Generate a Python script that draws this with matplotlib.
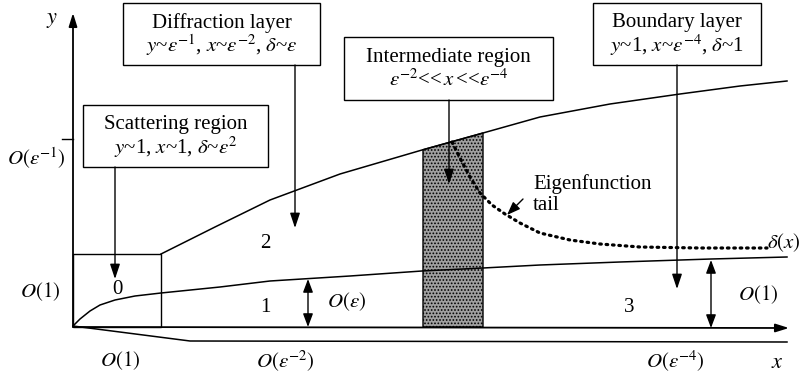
import numpy as np
import matplotlib.pyplot as plt
from matplotlib.patches import Rectangle, Polygon

plt.rcParams['font.family'] = ['Liberation Serif', 'DejaVu Serif']
plt.rcParams['mathtext.fontset'] = 'stix'
plt.rcParams['hatch.color'] = '#e4e4e4'
plt.rcParams['hatch.linewidth'] = 0.8

# curves (pixel frame, y downwards)
upper_x = [161, 215, 270, 340, 422, 483, 540, 610, 680, 740, 787]
upper_y = [254, 227, 200, 174, 150, 133, 117, 104, 94, 86, 81]
lower_x = [73, 80, 90, 100, 115, 135, 161, 220, 270, 350, 422, 483, 540, 620, 711, 787]
lower_y = [326, 319, 311, 305, 300, 296, 293, 287, 281, 276, 271, 268, 265, 262, 259, 257]
tail_x = [452, 460, 470, 480, 492, 505, 520, 540, 570, 600, 640, 700, 767]
tail_y = [142, 158, 177, 193, 205, 214, 223, 233, 240, 244, 247, 248, 248]
bottom_x = [73, 190, 787]
bottom_y = [326, 341, 342]

# boxes: (x0, y0, x1, y1, line1, line2, arrow_x, arrow_tip_y)
boxes = [
    (123, 3, 320, 65, 'Diffraction layer',
     r'$y$~$\varepsilon^{-1}$, $x$~$\varepsilon^{-2}$, $\delta$~$\varepsilon$', 295, 228),
    (83, 105, 268, 167, 'Scattering region',
     r'$y$~1, $x$~1, $\delta$~$\varepsilon^{2}$', 115, 279),
    (344, 37, 553, 100, 'Intermediate region',
     r'$\varepsilon^{-2}$<<$\,x\,$<<$\varepsilon^{-4}$', 449, 184),
    (593, 3, 761, 65, 'Boundary layer',
     r'$y$~1, $x$~$\varepsilon^{-4}$, $\delta$~1', 677, 289),
]

fig = plt.figure(figsize=(8.07, 3.80), dpi=100)
ax = fig.add_axes([0, 0, 1, 1])
ax.set_xlim(0, 807)
ax.set_ylim(380, 0)
ax.set_axis_off()

fs = 15
k = 'black'

# shaded intermediate strip, top follows the upper curve
sx = [423, 483]
sy = list(np.interp(sx, upper_x, upper_y))
ax.add_patch(Polygon([(sx[0], 327), (sx[0], sy[0]), (sx[1], sy[1]), (sx[1], 327)],
                     closed=True, facecolor='#a0a0a0', edgecolor=k, lw=1.0,
                     hatch='.....', zorder=1))

# axes
arr = dict(arrowstyle='-|>,head_length=0.8,head_width=0.25', color=k, lw=1.3,
           shrinkA=0, shrinkB=0)
ax.annotate('', xy=(73, 13), xytext=(73, 327), arrowprops=arr)
ax.annotate('', xy=(789, 328), xytext=(73, 327), arrowprops=arr)
ax.plot([62, 73], [139, 139], color=k, lw=1.0)

ax.plot(upper_x, upper_y, color=k, lw=1.1)
ax.plot(lower_x, lower_y, color=k, lw=1.1)
ax.plot(bottom_x, bottom_y, color=k, lw=1.1)
ax.plot(tail_x, tail_y, color=k, lw=2.3, linestyle=(0, (0.5, 1.5)),
        dash_capstyle='round', zorder=2)

# scattering region square
ax.add_patch(Rectangle((73, 254), 161 - 73, 327 - 254, fill=False, edgecolor=k, lw=1.0))

for x0, y0, x1, y1, t1, t2, axx, tip in boxes:
    ax.add_patch(Rectangle((x0, y0), x1 - x0, y1 - y0, facecolor='white',
                           edgecolor=k, lw=1.0, zorder=3))
    cx = (x0 + x1) / 2
    ax.text(cx, y0 + (y1 - y0) * 0.32, t1, ha='center', va='center', fontsize=fs, zorder=4)
    ax.text(cx, y0 + (y1 - y0) * 0.68, t2, ha='center', va='center', fontsize=fs, zorder=4)
    ax.annotate('', xy=(axx, tip), xytext=(axx, y1),
                arrowprops=dict(arrowstyle='-|>,head_length=0.9,head_width=0.3',
                                color=k, lw=1.0, shrinkA=0, shrinkB=0))

# double arrows
darr = dict(arrowstyle='<|-|>,head_length=0.8,head_width=0.3', color=k, lw=1.0,
            shrinkA=0, shrinkB=0)
ax.annotate('', xy=(308, 279), xytext=(308, 327), arrowprops=darr)
ax.annotate('', xy=(711, 260), xytext=(711, 328), arrowprops=darr)

# eigenfunction arrow
ax.annotate('', xy=(507, 215), xytext=(523, 199),
            arrowprops=dict(arrowstyle='-|>,head_length=0.8,head_width=0.3',
                            color=k, lw=1.0, shrinkA=0, shrinkB=0))
ax.text(533, 184, 'Eigenfunction', fontsize=fs, ha='left', va='center')
ax.text(533, 206, 'tail', fontsize=fs, ha='left', va='center')

ax.text(52, 20, r'$y$', fontsize=fs + 1, ha='center', va='center')
ax.text(777, 363, r'$x$', fontsize=fs + 1, ha='center', va='center')
ax.text(784, 243, r'$\delta(x)$', fontsize=fs, ha='center', va='center')
ax.text(36, 158, r'$O(\varepsilon^{-1})$', fontsize=fs, ha='center', va='center')
ax.text(40, 292, r'$O(1)$', fontsize=fs, ha='center', va='center')
ax.text(120, 361, r'$O(1)$', fontsize=fs, ha='center', va='center')
ax.text(285, 361, r'$O(\varepsilon^{-2})$', fontsize=fs, ha='center', va='center')
ax.text(675, 361, r'$O(\varepsilon^{-4})$', fontsize=fs, ha='center', va='center')
ax.text(347, 302, r'$O(\varepsilon)$', fontsize=fs, ha='center', va='center')
ax.text(758, 295, r'$O(1)$', fontsize=fs, ha='center', va='center')

ax.text(117, 290, '0', fontsize=fs, ha='center', va='center')
ax.text(265, 308, '1', fontsize=fs, ha='center', va='center')
ax.text(265, 243, '2', fontsize=fs, ha='center', va='center')
ax.text(629, 307, '3', fontsize=fs, ha='center', va='center')

fig.savefig('out.png', dpi=100)
